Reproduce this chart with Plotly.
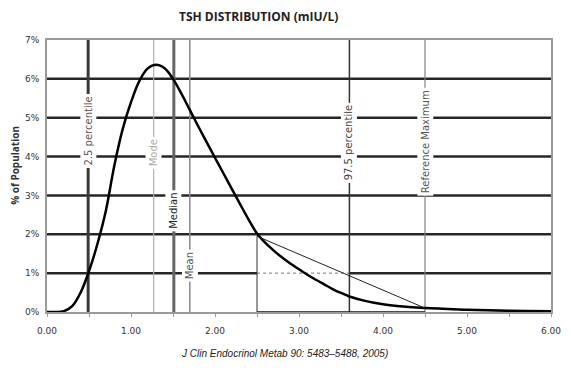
import plotly.graph_objects as go

# Curve data (TSH value, % of population)
tsh_x = [0.0, 0.1, 0.2, 0.3, 0.4, 0.5, 0.6, 0.7, 0.8, 0.9, 1.0, 1.1, 1.2, 1.3, 1.4,
         1.5, 1.6, 1.7, 1.8, 1.9, 2.0, 2.1, 2.2, 2.3, 2.4, 2.5, 2.6, 2.7, 2.8, 2.9,
         3.0, 3.1, 3.2, 3.3, 3.4, 3.5, 3.6, 3.8, 4.0, 4.2, 4.5, 5.0, 5.5, 6.0]
pct_pop = [0.0, 0.0, 0.02, 0.15, 0.5, 1.05, 1.75, 2.6, 3.75, 4.7, 5.4, 5.95, 6.27, 6.36, 6.27,
           6.0, 5.62, 5.2, 4.78, 4.37, 3.97, 3.57, 3.17, 2.77, 2.38, 2.02, 1.78, 1.58, 1.4, 1.24,
           1.1, 0.96, 0.83, 0.71, 0.59, 0.49, 0.40, 0.28, 0.2, 0.15, 0.1, 0.06, 0.03, 0.02]

# Reference markers
marker_names = ["2.5 percentile", "Mode", "Median", "Mean", "97.5 percentile", "Reference Maximum"]
marker_x = [0.49, 1.27, 1.51, 1.70, 3.6, 4.5]
marker_label_y = [4.65, 4.1, 2.6, 1.2, 4.35, 4.37]

# Triangle (area beyond 2.5)
tri_x = [2.5, 4.5]
tri_y = [1.95, 0.1]

y_ticks = [0, 1, 2, 3, 4, 5, 6, 7]
y_ticktext = ["0%", "1%", "2%", "3%", "4%", "5%", "6%", "7%"]
x_ticks = [0, 1, 2, 3, 4, 5, 6]
x_ticktext = ["0.00", "1.00", "2.00", "3.00", "4.00", "5.00", "6.00"]

line_colors = ["#3a3a3a", "#b0b0b0", "#666666", "#8a8a8a", "#333333", "#808080"]
line_widths = [3, 1.2, 3, 1.5, 1.5, 1.2]
label_colors = ["#555555", "#aaaaaa", "#222222", "#555555", "#444444", "#555555"]

fig = go.Figure()

shapes = []
# horizontal gridlines
for v in y_ticks[1:-1]:
    if v == 1:
        shapes.append(dict(type="line", xref="x", yref="y", x0=0, x1=tri_x[0], y0=v, y1=v,
                           line=dict(color="#262626", width=2.5), layer="below"))
        shapes.append(dict(type="line", xref="x", yref="y", x0=tri_x[0], x1=marker_x[4], y0=v, y1=v,
                           line=dict(color="#777777", width=1, dash="dot"), layer="below"))
        shapes.append(dict(type="line", xref="x", yref="y", x0=marker_x[4], x1=6, y0=v, y1=v,
                           line=dict(color="#262626", width=2.5), layer="below"))
    else:
        shapes.append(dict(type="line", xref="x", yref="y", x0=0, x1=6, y0=v, y1=v,
                           line=dict(color="#262626", width=2.5), layer="below"))

# vertical reference lines
for mx, c, w in zip(marker_x, line_colors, line_widths):
    shapes.append(dict(type="line", xref="x", yref="y", x0=mx, x1=mx, y0=0, y1=7,
                       line=dict(color=c, width=w), layer="below"))

# triangle pieces
shapes.append(dict(type="line", xref="x", yref="y", x0=tri_x[0], x1=tri_x[0], y0=0, y1=tri_y[0],
                   line=dict(color="#333333", width=1)))
shapes.append(dict(type="line", xref="x", yref="y", x0=tri_x[0], x1=tri_x[1], y0=0, y1=0,
                   line=dict(color="#111111", width=1.5)))
shapes.append(dict(type="line", xref="x", yref="y", x0=tri_x[0], x1=tri_x[1], y0=tri_y[0], y1=tri_y[1],
                   line=dict(color="#222222", width=1)))

fig.add_trace(go.Scatter(x=tsh_x, y=pct_pop, mode="lines",
                         line=dict(color="black", width=2.5, shape="spline", smoothing=1.0),
                         showlegend=False, hoverinfo="skip"))

annotations = []
for name, mx, ly, lc in zip(marker_names, marker_x, marker_label_y, label_colors):
    annotations.append(dict(x=mx, y=ly, xref="x", yref="y", text=name, textangle=-90,
                            showarrow=False, bgcolor="white", borderpad=2,
                            xanchor="center", yanchor="middle",
                            font=dict(family="DejaVu Sans", size=10, color=lc)))

annotations.append(dict(x=0.419, y=1.088, xref="paper", yref="paper", xanchor="center", yanchor="middle",
                        text="<b>TSH DISTRIBUTION (mIU/L)</b>", showarrow=False,
                        font=dict(family="Open Sans", size=12, color="#222222")))
annotations.append(dict(x=-0.064, y=0.54, xref="paper", yref="paper", xanchor="center", yanchor="middle",
                        text="<b>% of Population</b>", textangle=-90, showarrow=False,
                        font=dict(family="Open Sans", size=10, color="#333333")))
annotations.append(dict(x=0.472, y=-0.154, xref="paper", yref="paper", xanchor="center", yanchor="middle",
                        text="<i>J Clin Endocrinol Metab 90: 5483–5488, 2005)</i>", showarrow=False,
                        font=dict(family="Liberation Sans", size=10, color="#222222")))

fig.update_layout(
    width=571, height=368,
    margin=dict(l=39, r=28, t=32, b=64),
    paper_bgcolor="white", plot_bgcolor="white",
    shapes=shapes, annotations=annotations,
    xaxis=dict(range=[0, 6], tickvals=x_ticks, ticktext=x_ticktext, showgrid=False,
               zeroline=False, showline=True, linecolor="#9a9a9a", linewidth=1.5, mirror=True,
               ticks="outside", ticklen=3, tickcolor="#9a9a9a", automargin=False,
               ticklabelstandoff=6,
               minor=dict(ticks="outside", dtick=0.5, ticklen=3, tickcolor="#9a9a9a"),
               tickfont=dict(family="DejaVu Sans", size=9, color="#333333")),
    yaxis=dict(range=[0, 7], tickvals=y_ticks, ticktext=y_ticktext, showgrid=False,
               zeroline=False, showline=True, linecolor="#9a9a9a", linewidth=2, mirror=True,
               ticks="", ticklabelstandoff=4, automargin=False,
               tickfont=dict(family="DejaVu Sans", size=9, color="#333333")),
)

fig.write_html("out.html")
